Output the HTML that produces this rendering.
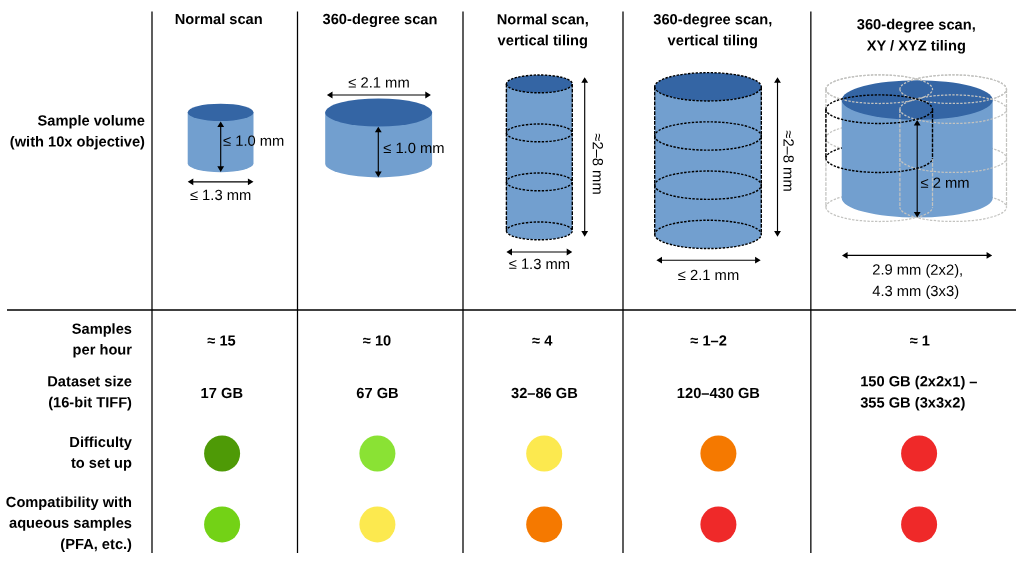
<!DOCTYPE html>
<html><head><meta charset="utf-8"><title>Scan modes</title>
<style>html,body{margin:0;padding:0;background:#fff;}body{width:1024px;height:572px;overflow:hidden;}svg{display:block;will-change:transform;text-rendering:geometricPrecision;font-family:"Liberation Sans",sans-serif;fill:#000;}</style></head><body>
<svg width="1024" height="572" viewBox="0 0 1024 572">
<rect width="1024" height="572" fill="#fff"/>
<path d="M152 11.5V552.9" stroke="#000" stroke-width="1.27" fill="none"/>
<path d="M297.5 11.5V552.9" stroke="#000" stroke-width="1.27" fill="none"/>
<path d="M463 11.5V552.9" stroke="#000" stroke-width="1.27" fill="none"/>
<path d="M623 11.5V552.9" stroke="#000" stroke-width="1.27" fill="none"/>
<path d="M810.85 11.5V552.9" stroke="#000" stroke-width="1.27" fill="none"/>
<path d="M7 310H1016" stroke="#000" stroke-width="1.27" fill="none"/>
<text x="218.7" y="24.1" transform="rotate(0.05 218.7 24.1)" text-anchor="middle" font-size="14.67" font-weight="bold">Normal scan</text>
<text x="380" y="24.1" transform="rotate(0.05 380 24.1)" text-anchor="middle" font-size="14.67" font-weight="bold">360-degree scan</text>
<text x="542.8" y="24.2" transform="rotate(0.05 542.8 24.2)" text-anchor="middle" font-size="14.67" font-weight="bold">Normal scan,</text>
<text x="542.8" y="45.2" transform="rotate(0.05 542.8 45.2)" text-anchor="middle" font-size="14.67" font-weight="bold">vertical tiling</text>
<text x="712.8" y="24.2" transform="rotate(0.05 712.8 24.2)" text-anchor="middle" font-size="14.67" font-weight="bold">360-degree scan,</text>
<text x="712.8" y="45.2" transform="rotate(0.05 712.8 45.2)" text-anchor="middle" font-size="14.67" font-weight="bold">vertical tiling</text>
<text x="916.3" y="29.4" transform="rotate(0.05 916.3 29.4)" text-anchor="middle" font-size="14.67" font-weight="bold">360-degree scan,</text>
<text x="916.3" y="50.5" transform="rotate(0.05 916.3 50.5)" text-anchor="middle" font-size="14.67" font-weight="bold">XY / XYZ tiling</text>
<text x="145" y="125.6" transform="rotate(0.05 145 125.6)" text-anchor="end" font-size="14.67" font-weight="bold">Sample volume</text>
<text x="145" y="146.6" transform="rotate(0.05 145 146.6)" text-anchor="end" font-size="14.67" font-weight="bold">(with 10x objective)</text>
<text x="132" y="333.7" transform="rotate(0.05 132 333.7)" text-anchor="end" font-size="14.67" font-weight="bold">Samples</text>
<text x="132" y="354.6" transform="rotate(0.05 132 354.6)" text-anchor="end" font-size="14.67" font-weight="bold">per hour</text>
<text x="132" y="386.3" transform="rotate(0.05 132 386.3)" text-anchor="end" font-size="14.67" font-weight="bold">Dataset size</text>
<text x="132" y="407.4" transform="rotate(0.05 132 407.4)" text-anchor="end" font-size="14.67" font-weight="bold">(16-bit TIFF)</text>
<text x="132" y="447" transform="rotate(0.05 132 447)" text-anchor="end" font-size="14.67" font-weight="bold">Difficulty</text>
<text x="132" y="467.8" transform="rotate(0.05 132 467.8)" text-anchor="end" font-size="14.67" font-weight="bold">to set up</text>
<text x="132" y="507" transform="rotate(0.05 132 507)" text-anchor="end" font-size="14.67" font-weight="bold">Compatibility with</text>
<text x="132" y="527.9" transform="rotate(0.05 132 527.9)" text-anchor="end" font-size="14.67" font-weight="bold">aqueous samples</text>
<text x="132" y="549" transform="rotate(0.05 132 549)" text-anchor="end" font-size="14.67" font-weight="bold">(PFA, etc.)</text>
<text x="221.5" y="345.6" transform="rotate(0.05 221.5 345.6)" text-anchor="middle" font-size="14.67" font-weight="bold">≈ 15</text>
<text x="221.8" y="398.1" transform="rotate(0.05 221.8 398.1)" text-anchor="middle" font-size="14.67" font-weight="bold">17 GB</text>
<text x="377" y="345.6" transform="rotate(0.05 377 345.6)" text-anchor="middle" font-size="14.67" font-weight="bold">≈ 10</text>
<text x="377.5" y="398.1" transform="rotate(0.05 377.5 398.1)" text-anchor="middle" font-size="14.67" font-weight="bold">67 GB</text>
<text x="542.2" y="345.6" transform="rotate(0.05 542.2 345.6)" text-anchor="middle" font-size="14.67" font-weight="bold">≈ 4</text>
<text x="544.4" y="398.1" transform="rotate(0.05 544.4 398.1)" text-anchor="middle" font-size="14.67" font-weight="bold">32–86 GB</text>
<text x="708.6" y="345.6" transform="rotate(0.05 708.6 345.6)" text-anchor="middle" font-size="14.67" font-weight="bold">≈ 1–2</text>
<text x="718.4" y="398.1" transform="rotate(0.05 718.4 398.1)" text-anchor="middle" font-size="14.67" font-weight="bold">120–430 GB</text>
<text x="919.8" y="345.6" transform="rotate(0.05 919.8 345.6)" text-anchor="middle" font-size="14.67" font-weight="bold">≈ 1</text>
<text x="860.2" y="386.3" transform="rotate(0.05 860.2 386.3)" text-anchor="start" font-size="14.67" font-weight="bold">150 GB (2x2x1) –</text>
<text x="860.2" y="407.4" transform="rotate(0.05 860.2 407.4)" text-anchor="start" font-size="14.67" font-weight="bold">355 GB (3x3x2)</text>
<circle cx="222.1" cy="453.5" r="18" fill="#4e9a06"/>
<circle cx="222.1" cy="524.4" r="18" fill="#73d216"/>
<circle cx="377.4" cy="453.5" r="18" fill="#8ae234"/>
<circle cx="377.4" cy="524.4" r="18" fill="#fce94f"/>
<circle cx="544.2" cy="453.5" r="18" fill="#fce94f"/>
<circle cx="544.2" cy="524.4" r="18" fill="#f57900"/>
<circle cx="718.4" cy="453.5" r="18" fill="#f57900"/>
<circle cx="718.4" cy="524.4" r="18" fill="#ef2929"/>
<circle cx="919.1" cy="453.5" r="18" fill="#ef2929"/>
<circle cx="919.1" cy="524.4" r="18" fill="#ef2929"/>
<path d="M187.7 112.4V163.5A32.900000000000006 8.7 0 0 0 253.5 163.5V112.4Z" fill="#729fcf"/>
<ellipse cx="220.6" cy="112.4" rx="32.900000000000006" ry="8.7" fill="#3465a4"/>
<path d="M220.7 126.0V167.3" stroke="#000" stroke-width="1.15" fill="none"/>
<path d="M220.7 121.4L217.29999999999998 127.0H224.1Z M220.7 171.9L217.29999999999998 166.3H224.1Z" fill="#000"/>
<path d="M192.29999999999998 181.8H248.9" stroke="#000" stroke-width="1.15" fill="none"/>
<path d="M187.7 181.8L193.29999999999998 178.4V185.20000000000002Z M253.5 181.8L247.9 178.4V185.20000000000002Z" fill="#000"/>
<text x="223" y="145.8" transform="rotate(0.05 223 145.8)" text-anchor="start" font-size="14.75">≤ 1.0 mm</text>
<text x="220.6" y="200.0" transform="rotate(0.05 220.6 200.0)" text-anchor="middle" font-size="14.75">≤ 1.3 mm</text>
<path d="M325.2 112.5V163.4A53.45000000000002 14 0 0 0 432.1 163.4V112.5Z" fill="#729fcf"/>
<ellipse cx="378.65" cy="112.5" rx="53.45000000000002" ry="14" fill="#3465a4"/>
<path d="M331.5 95.0H426.29999999999995" stroke="#000" stroke-width="1.15" fill="none"/>
<path d="M326.9 95.0L332.5 91.6V98.4Z M430.9 95.0L425.29999999999995 91.6V98.4Z" fill="#000"/>
<path d="M378.3 131.3V172.6" stroke="#000" stroke-width="1.15" fill="none"/>
<path d="M378.3 126.7L374.90000000000003 132.3H381.7Z M378.3 177.2L374.90000000000003 171.6H381.7Z" fill="#000"/>
<text x="379" y="87.6" transform="rotate(0.05 379 87.6)" text-anchor="middle" font-size="14.75">≤ 2.1 mm</text>
<text x="383.2" y="153.0" transform="rotate(0.05 383.2 153.0)" text-anchor="start" font-size="14.75">≤ 1.0 mm</text>
<path d="M506.4 83.9V230.9A32.94999999999999 8.9 0 0 0 572.3 230.9V83.9Z" fill="#729fcf"/>
<ellipse cx="539.3499999999999" cy="83.9" rx="32.94999999999999" ry="8.9" fill="#3465a4"/>
<path d="M506.3999999999999 83.9A32.94999999999999 8.9 0 0 0 572.3 83.9A32.94999999999999 8.9 0 0 0 506.3999999999999 83.9Z" fill="none" stroke="#000" stroke-width="1.4" stroke-dasharray="2.4 1.4"/>
<path d="M506.3999999999999 132.9A32.94999999999999 8.9 0 0 0 572.3 132.9A32.94999999999999 8.9 0 0 0 506.3999999999999 132.9Z" fill="none" stroke="#000" stroke-width="1.4" stroke-dasharray="2.4 1.4"/>
<path d="M506.3999999999999 181.9A32.94999999999999 8.9 0 0 0 572.3 181.9A32.94999999999999 8.9 0 0 0 506.3999999999999 181.9Z" fill="none" stroke="#000" stroke-width="1.4" stroke-dasharray="2.4 1.4"/>
<path d="M506.3999999999999 230.9A32.94999999999999 8.9 0 0 0 572.3 230.9A32.94999999999999 8.9 0 0 0 506.3999999999999 230.9Z" fill="none" stroke="#000" stroke-width="1.4" stroke-dasharray="2.4 1.4"/>
<path d="M506.4 83.9V230.9" fill="none" stroke="#000" stroke-width="1.4" stroke-dasharray="3.7 1.2"/>
<path d="M572.3 83.9V230.9" fill="none" stroke="#000" stroke-width="1.4" stroke-dasharray="3.7 1.2"/>
<path d="M584.7 81.8V232.1" stroke="#000" stroke-width="1.15" fill="none"/>
<path d="M584.7 77.2L581.3000000000001 82.8H588.1Z M584.7 236.7L581.3000000000001 231.1H588.1Z" fill="#000"/>
<path d="M511.0 252.0H567.6999999999999" stroke="#000" stroke-width="1.15" fill="none"/>
<path d="M506.4 252.0L512.0 248.6V255.4Z M572.3 252.0L566.6999999999999 248.6V255.4Z" fill="#000"/>
<text x="539.4" y="268.9" transform="rotate(0.05 539.4 268.9)" text-anchor="middle" font-size="14.75">≤ 1.3 mm</text>
<text transform="translate(592.8 164) rotate(90.05)" text-anchor="middle" font-size="14.75">≈2–8 mm</text>
<path d="M654.7 86.8V234.4A53.299999999999955 14.15 0 0 0 761.3 234.4V86.8Z" fill="#729fcf"/>
<ellipse cx="708.0" cy="86.8" rx="53.299999999999955" ry="14.15" fill="#3465a4"/>
<path d="M654.7 86.8A53.299999999999955 14.15 0 0 0 761.3 86.8A53.299999999999955 14.15 0 0 0 654.7 86.8Z" fill="none" stroke="#000" stroke-width="1.4" stroke-dasharray="2.4 1.4"/>
<path d="M654.7 136.0A53.299999999999955 14.15 0 0 0 761.3 136.0A53.299999999999955 14.15 0 0 0 654.7 136.0Z" fill="none" stroke="#000" stroke-width="1.4" stroke-dasharray="2.4 1.4"/>
<path d="M654.7 185.2A53.299999999999955 14.15 0 0 0 761.3 185.2A53.299999999999955 14.15 0 0 0 654.7 185.2Z" fill="none" stroke="#000" stroke-width="1.4" stroke-dasharray="2.4 1.4"/>
<path d="M654.7 234.4A53.299999999999955 14.15 0 0 0 761.3 234.4A53.299999999999955 14.15 0 0 0 654.7 234.4Z" fill="none" stroke="#000" stroke-width="1.4" stroke-dasharray="2.4 1.4"/>
<path d="M654.7 86.8V234.4" fill="none" stroke="#000" stroke-width="1.4" stroke-dasharray="3.7 1.2"/>
<path d="M761.3 86.8V234.4" fill="none" stroke="#000" stroke-width="1.4" stroke-dasharray="3.7 1.2"/>
<path d="M777.5 81.8V232.1" stroke="#000" stroke-width="1.15" fill="none"/>
<path d="M777.5 77.2L774.1 82.8H780.9Z M777.5 236.7L774.1 231.1H780.9Z" fill="#000"/>
<path d="M661.0 260.2H756.1" stroke="#000" stroke-width="1.15" fill="none"/>
<path d="M656.4 260.2L662.0 256.8V263.59999999999997Z M760.7 260.2L755.1 256.8V263.59999999999997Z" fill="#000"/>
<text x="708.5" y="280.0" transform="rotate(0.05 708.5 280.0)" text-anchor="middle" font-size="14.75">≤ 2.1 mm</text>
<text transform="translate(783.5 161) rotate(90.05)" text-anchor="middle" font-size="14.75">≈2–8 mm</text>
<path d="M825.9000000000001 89.2A53.3 14.3 0 0 0 932.5 89.2A53.3 14.3 0 0 0 825.9000000000001 89.2Z" fill="none" stroke="#c3c3c0" stroke-width="1.25" stroke-dasharray="2.4 1.4"/>
<path d="M899.9000000000001 89.2A53.3 14.3 0 0 0 1006.5 89.2A53.3 14.3 0 0 0 899.9000000000001 89.2Z" fill="none" stroke="#c3c3c0" stroke-width="1.25" stroke-dasharray="2.4 1.4"/>
<path d="M825.9000000000001 89.2V207.2" fill="none" stroke="#c3c3c0" stroke-width="1.25" stroke-dasharray="3.7 1.2"/>
<path d="M1006.5 89.2V207.2" fill="none" stroke="#c3c3c0" stroke-width="1.25" stroke-dasharray="3.7 1.2"/>
<path d="M825.9000000000001 138.2A53.3 14.3 0 0 0 932.5 138.2A53.3 14.3 0 0 0 825.9000000000001 138.2Z" fill="none" stroke="#c3c3c0" stroke-width="1.25" stroke-dasharray="2.4 1.4"/>
<path d="M825.9000000000001 158.2A53.3 14.3 0 0 1 932.5 158.2" fill="none" stroke="#000" stroke-width="1.4" stroke-dasharray="2.4 1.4"/>
<path d="M899.9000000000001 158.2A53.3 14.3 0 0 1 1006.5 158.2" fill="none" stroke="#c3c3c0" stroke-width="1.25" stroke-dasharray="2.4 1.4"/>
<path d="M825.9000000000001 207.2A53.3 14.3 0 0 1 932.5 207.2" fill="none" stroke="#c3c3c0" stroke-width="1.25" stroke-dasharray="2.4 1.4"/>
<path d="M899.9000000000001 207.2A53.3 14.3 0 0 1 1006.5 207.2" fill="none" stroke="#c3c3c0" stroke-width="1.25" stroke-dasharray="2.4 1.4"/>
<path d="M841.7 100V197.9A75.5 19.7 0 0 0 992.7 197.9V100Z" fill="#729fcf"/>
<ellipse cx="917.2" cy="100" rx="75.5" ry="19.7" fill="#3465a4"/>
<path d="M825.9000000000001 89.2A53.3 14.3 0 0 0 932.5 89.2A53.3 14.3 0 0 0 825.9000000000001 89.2Z" fill="none" stroke="#c3c3c0" stroke-width="1.25" stroke-dasharray="2.4 1.4"/>
<path d="M899.9000000000001 89.2A53.3 14.3 0 0 0 1006.5 89.2A53.3 14.3 0 0 0 899.9000000000001 89.2Z" fill="none" stroke="#c3c3c0" stroke-width="1.25" stroke-dasharray="2.4 1.4"/>
<path d="M899.9000000000001 109.2A53.3 14.3 0 0 0 1006.5 109.2A53.3 14.3 0 0 0 899.9000000000001 109.2Z" fill="none" stroke="#c3c3c0" stroke-width="1.25" stroke-dasharray="2.4 1.4"/>
<path d="M899.9000000000001 109.2V207.2" fill="none" stroke="#c3c3c0" stroke-width="1.25" stroke-dasharray="3.7 1.2"/>
<path d="M899.9000000000001 158.2A53.3 14.3 0 0 0 1006.5 158.2" fill="none" stroke="#c3c3c0" stroke-width="1.25" stroke-dasharray="2.4 1.4"/>
<path d="M899.9000000000001 207.2A53.3 14.3 0 0 0 1006.5 207.2" fill="none" stroke="#c3c3c0" stroke-width="1.25" stroke-dasharray="2.4 1.4"/>
<path d="M932.5 158.2V207.2" fill="none" stroke="#c3c3c0" stroke-width="1.25" stroke-dasharray="3.7 1.2"/>
<path d="M825.9000000000001 207.2A53.3 14.3 0 0 0 932.5 207.2" fill="none" stroke="#c3c3c0" stroke-width="1.25" stroke-dasharray="2.4 1.4"/>
<path d="M825.9000000000001 109.2A53.3 14.3 0 0 0 932.5 109.2A53.3 14.3 0 0 0 825.9000000000001 109.2Z" fill="none" stroke="#000" stroke-width="1.4" stroke-dasharray="2.4 1.4"/>
<path d="M825.9000000000001 109.2V158.2" fill="none" stroke="#000" stroke-width="1.4" stroke-dasharray="3.7 1.2"/>
<path d="M932.5 109.2V158.2" fill="none" stroke="#000" stroke-width="1.4" stroke-dasharray="3.7 1.2"/>
<path d="M825.9000000000001 158.2A53.3 14.3 0 0 0 932.5 158.2" fill="none" stroke="#000" stroke-width="1.4" stroke-dasharray="2.4 1.4"/>
<path d="M917.2 124.6V212.9" stroke="#000" stroke-width="1.15" fill="none"/>
<path d="M917.2 120L913.8000000000001 125.6H920.6Z M917.2 217.5L913.8000000000001 211.9H920.6Z" fill="#000"/>
<text x="920.5" y="187.8" transform="rotate(0.05 920.5 187.8)" text-anchor="start" font-size="14.75">≤ 2 mm</text>
<path d="M846.6 255.4H987.6" stroke="#000" stroke-width="1.15" fill="none"/>
<path d="M842 255.4L847.6 252.0V258.8Z M992.2 255.4L986.6 252.0V258.8Z" fill="#000"/>
<text x="872.2" y="274.6" transform="rotate(0.05 872.2 274.6)" text-anchor="start" font-size="14.75">2.9 mm (2x2),</text>
<text x="872.2" y="296.0" transform="rotate(0.05 872.2 296.0)" text-anchor="start" font-size="14.75">4.3 mm (3x3)</text>
</svg></body></html>
